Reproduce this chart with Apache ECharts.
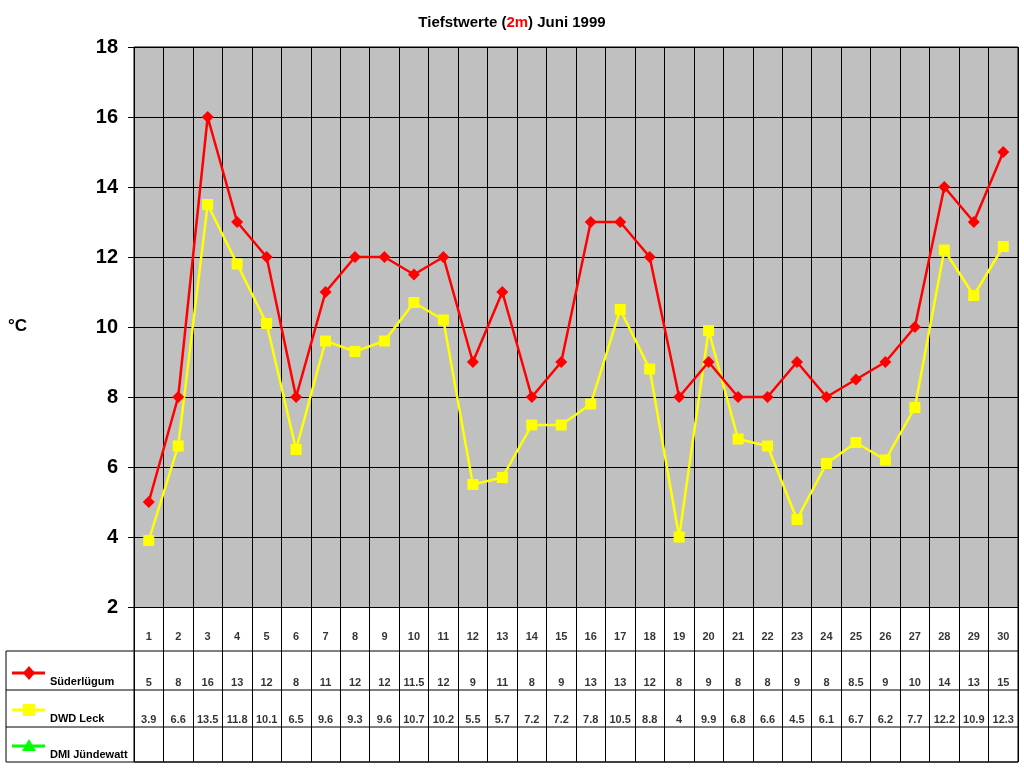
<!DOCTYPE html>
<html><head><meta charset="utf-8">
<script src="https://cdn.jsdelivr.net/npm/echarts@6/dist/echarts.min.js"></script>
<style>body{margin:0}#c{width:1024px;height:768px}</style></head>
<body><div id="c"></div>
<script>
const days = Array.from({length:30},(_,i)=>String(i+1));
const suederluegum = [5,8,16,13,12,8,11,12,12,11.5,12,9,11,8,9,13,13,12,8,9,8,8,9,8,8.5,9,10,14,13,15];
const dwdLeck = [3.9,6.6,13.5,11.8,10.1,6.5,9.6,9.3,9.6,10.7,10.2,5.5,5.7,7.2,7.2,7.8,10.5,8.8,4,9.9,6.8,6.6,4.5,6.1,6.7,6.2,7.7,12.2,10.9,12.3];
const dmiJuendewatt = [];
const yTicks = [2,4,6,8,10,12,14,16,18];

const F = 'Liberation Sans, Arial, sans-serif';
const rowY = {day:30, s:76, d:113};
function rowData(arr, y){ return arr.map((v,i)=>[days[i], y, v]); }
const lbl = {show:true, position:'inside', formatter:p=>String(p.value[2]), color:'#000', fontFamily:F, fontWeight:'bold', fontSize:11};

const TL=6, GL=134, GR=1018, GT=47, GB=607;
const hl = (y,x1)=>({type:'line', shape:{x1:x1,y1:y,x2:GR,y2:y}, style:{stroke:'#000',lineWidth:1}});
function legendItem(y, color, sym, text){
  const g=[{type:'line',shape:{x1:12,y1:y,x2:45,y2:y},style:{stroke:color,lineWidth:3}}];
  if(sym==='d') g.push({type:'polygon',shape:{points:[[29,y-7],[35,y],[29,y+7],[23,y]]},style:{fill:color}});
  if(sym==='s') g.push({type:'rect',shape:{x:23,y:y-6,width:12,height:12},style:{fill:color}});
  if(sym==='t') g.push({type:'polygon',shape:{points:[[29,y-7],[36,y+5],[22,y+5]]},style:{fill:color}});
  g.push({type:'text',left:50,top:y+3,style:{text:text,font:'bold 11px '+F,fill:'#000'}});
  return g;
}

const chart = echarts.init(document.getElementById('c'));
chart.setOption({
  backgroundColor:'#fff',
  animation:false,
  title:{text:'Tiefstwerte ({r|2m}) Juni 1999', left:'center', top:10,
    textStyle:{fontFamily:F,fontSize:15,fontWeight:'bold',color:'#000',
      rich:{r:{color:'#f00',fontFamily:F,fontSize:15,fontWeight:'bold',textDecoration:'underline'}}}},
  grid:[{left:GL,top:GT,width:GR-GL,height:GB-GT},{left:GL,top:GB,width:GR-GL,height:762-GB}],
  xAxis:[
    {gridIndex:0,type:'category',data:days,boundaryGap:true,axisLabel:{show:false},axisTick:{show:false},
     axisLine:{show:false},splitLine:{show:true,interval:0,lineStyle:{color:'#000',width:1}}},
    {gridIndex:1,type:'category',data:days,boundaryGap:true,axisLabel:{show:false},axisTick:{show:false},
     axisLine:{show:false},splitLine:{show:true,interval:0,lineStyle:{color:'#000',width:1}}}
  ],
  yAxis:[
    {gridIndex:0,type:'value',min:2,max:18,interval:2,
     axisLabel:{fontFamily:F,fontSize:20,fontWeight:'bold',color:'#000',margin:16},
     axisLine:{show:false},axisTick:{show:true,length:6,lineStyle:{color:'#000'}},
     splitLine:{lineStyle:{color:'#000',width:1}}, splitArea:{show:false}},
    {gridIndex:1,type:'value',min:0,max:155,inverse:true,show:false}
  ],
  graphic:[
    {type:'rect',shape:{x:GL,y:GT,width:GR-GL,height:GB-GT},style:{fill:'#c0c0c0'},z:-10},
    {type:'rect',shape:{x:GL,y:GT,width:GR-GL,height:762-GT},style:{fill:'none',stroke:'#000',lineWidth:1},z:10},
    hl(651,TL),hl(690,TL),hl(727,TL),hl(762,TL),
    {type:'line',shape:{x1:TL,y1:651,x2:TL,y2:762},style:{stroke:'#000',lineWidth:1}},
    {type:'text',left:8,top:318,style:{text:'°C',font:'bold 17px '+F,fill:'#000'}},
    ...legendItem(673,'#f00','d','Süderlügum'),
    ...legendItem(710,'#ff0','s','DWD Leck'),
    ...legendItem(746,'#0f0','t','DMI Jündewatt')
  ],
  series:[
    {name:'Süderlügum',type:'line',data:suederluegum,symbol:'diamond',symbolSize:12,
     lineStyle:{color:'#f00',width:2.5},itemStyle:{color:'#f00'},z:3},
    {name:'DWD Leck',type:'line',data:dwdLeck,symbol:'rect',symbolSize:11,
     lineStyle:{color:'#ff0',width:2.5},itemStyle:{color:'#ff0'},z:2},
    {name:'DMI Jündewatt',type:'line',data:dmiJuendewatt,symbol:'triangle',itemStyle:{color:'#0f0'}},
    {type:'scatter',xAxisIndex:1,yAxisIndex:1,symbolSize:0,data:days.map((d,i)=>[d,rowY.day,i+1]),label:lbl},
    {type:'scatter',xAxisIndex:1,yAxisIndex:1,symbolSize:0,data:rowData(suederluegum,rowY.s),label:lbl},
    {type:'scatter',xAxisIndex:1,yAxisIndex:1,symbolSize:0,data:rowData(dwdLeck,rowY.d),label:lbl}
  ]
});
</script></body></html>
